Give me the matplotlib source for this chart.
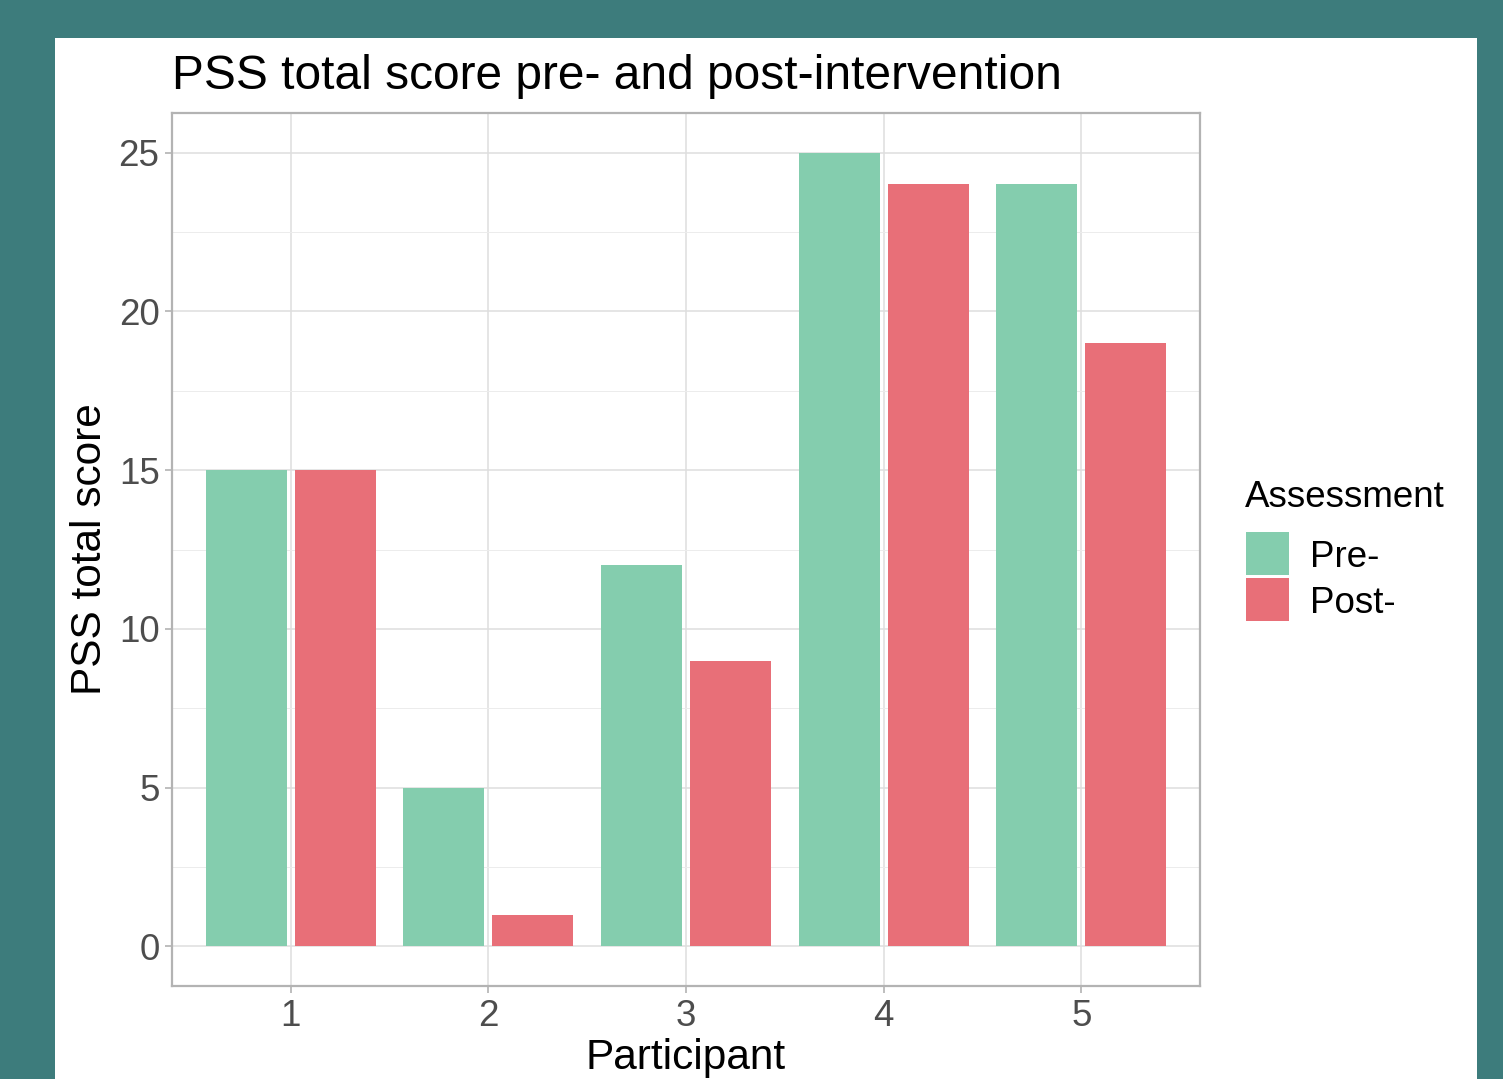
import matplotlib
matplotlib.use("Agg")
import matplotlib.pyplot as plt
from matplotlib.patches import Rectangle
import numpy as np

participants = [1, 2, 3, 4, 5]
pre_scores = [15, 5, 12, 25, 24]
post_scores = [15, 1, 9, 24, 19]
series_labels = ["Pre-", "Post-"]
y_ticks = [0, 5, 10, 15, 20, 25]

plt.rcParams['font.family'] = ['Liberation Sans', 'DejaVu Sans']

W, H = 1503, 1079
fig = plt.figure(figsize=(W / 100, H / 100), dpi=100)
fig.patch.set_facecolor('#3d7c7c')
fig.patches.append(Rectangle((55 / W, 0), (1477 - 55) / W, 1 - 38 / H,
                             transform=fig.transFigure, facecolor='white',
                             edgecolor='none', zorder=-5))

ax = fig.add_axes([172 / W, 1 - 986 / H, (1200 - 172) / W, (986 - 113) / H])
ax.set_zorder(2)
ax.set_facecolor('white')

pre_col = '#84cdae'
post_col = '#e86f78'
colors = [pre_col, post_col]
x = np.array(participants, dtype=float)
bw = 0.41
ax.bar(x - 0.225, pre_scores, width=bw, color=pre_col, zorder=3, label=series_labels[0])
ax.bar(x + 0.225, post_scores, width=bw, color=post_col, zorder=3, label=series_labels[1])

ax.set_xlim(0.4, 5.6)
ax.set_ylim(-1.25, 26.25)
ax.set_xticks(participants)
ax.set_yticks(y_ticks)
ax.set_yticks([2.5, 7.5, 12.5, 17.5, 22.5], minor=True)
ax.grid(True, which='major', color='#dedede', linewidth=1.1, zorder=0)
ax.grid(True, which='minor', axis='y', color='#ececec', linewidth=0.7, zorder=0)
ax.set_axisbelow(True)
for s in ax.spines.values():
    s.set_color('#b3b3b3')
    s.set_linewidth(1.6)
ax.tick_params(axis='both', which='major', colors='#b3b3b3', length=5, width=1.2,
               labelcolor='#4d4d4d', labelsize=26.5, pad=4)
ax.tick_params(axis='both', which='minor', length=0)

ax.set_xlabel('Participant', fontsize=30.5, color='black', labelpad=3)
ax.set_ylabel('PSS total score', fontsize=30.5, color='black', labelpad=6)
fig.text(172 / W, 1 - 89 / H, 'PSS total score pre- and post-intervention',
         fontsize=34.5, color='black', va='baseline', ha='left')

# legend (drawn manually to match key geometry)
fig.text(1245 / W, 1 - 507 / H, 'Assessment', fontsize=26.5, color='black',
         va='baseline', ha='left')
key_tops = [532, 578]
for top, col, lab in zip(key_tops, colors, series_labels):
    fig.patches.append(Rectangle((1246 / W, 1 - (top + 43) / H), 43 / W, 43 / H,
                                 transform=fig.transFigure, facecolor=col,
                                 edgecolor='none', zorder=3))
    fig.text(1310 / W, 1 - (top + 21.5) / H, lab, fontsize=26.5, color='black',
             va='center_baseline', ha='left')

fig.savefig('out.png', dpi=100, facecolor=fig.get_facecolor())
